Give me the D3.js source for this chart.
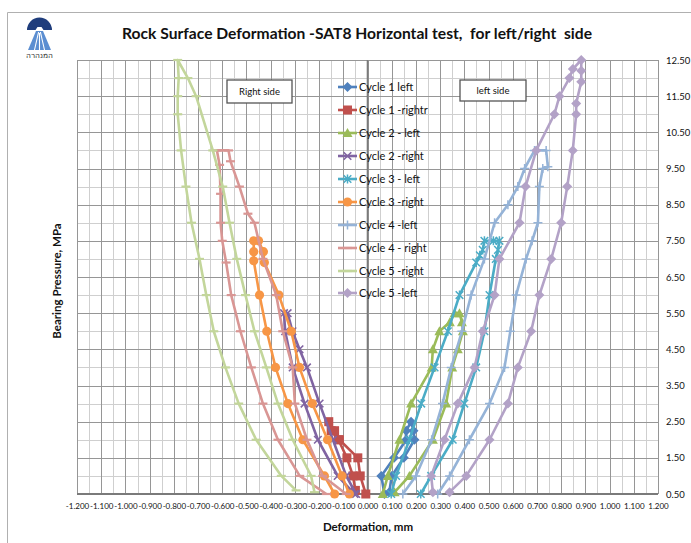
<!DOCTYPE html>
<html><head><meta charset="utf-8">
<script src="https://cdn.jsdelivr.net/npm/d3@7"></script>
<style>
body{margin:0;background:#fff;}
svg{display:block;font-family:Lato,"Open Sans",sans-serif;}
</style></head><body>
<svg id="chart" width="691" height="543"></svg>
<script>
// ---------- DATA ----------
const xTicks = [-1.2,-1.1,-1.0,-0.9,-0.8,-0.7,-0.6,-0.5,-0.4,-0.3,-0.2,-0.1,0,0.1,0.2,0.3,0.4,0.5,0.6,0.7,0.8,0.9,1.0,1.1,1.2];
const yTicks = [0.5,1.5,2.5,3.5,4.5,5.5,6.5,7.5,8.5,9.5,10.5,11.5,12.5];
const seriesNames = ["Cycle 1 left","Cycle 1 -rightr","Cycle 2 - left","Cycle 2 -right","Cycle 3 - left","Cycle 3 -right","Cycle 4 -left","Cycle 4 - right","Cycle 5 -right","Cycle 5 -left"];

// [deformation mm, pressure MPa]
const cycle1Left = [[0.07,0.5],[0.057,1.0],[0.11,1.5],[0.16,2.0],[0.16,2.25],[0.18,2.5],[0.19,2.25],[0.194,2.0],[0.15,1.5],[0.1,1.0],[0.09,0.55]];
const cycle1Right = [[-0.007,0.5],[-0.03,1.0],[-0.04,1.5],[-0.116,2.0],[-0.136,2.25],[-0.16,2.5],[-0.15,2.25],[-0.12,2.0],[-0.085,1.5],[-0.06,1.0],[-0.05,0.6]];
const cycle2Left = [[0.063,0.5],[0.084,1],[0.132,2],[0.18,3],[0.265,4],[0.27,4.5],[0.297,5],[0.34,5.25],[0.36,5.5],[0.38,5.5],[0.39,5.25],[0.394,5.0],[0.373,4.5],[0.35,4],[0.325,3],[0.27,2],[0.173,1],[0.112,0.55]];
const cycle2Right = [[-0.047,0.5],[-0.088,1],[-0.143,2],[-0.198,3],[-0.25,4],[-0.281,4.5],[-0.31,5],[-0.33,5.5],[-0.345,5.5],[-0.34,5],[-0.309,4],[-0.26,3],[-0.205,2],[-0.123,1],[-0.054,0.5]];
const cycle3Left = [[0.098,0.5],[0.118,1],[0.173,2],[0.222,3],[0.277,4],[0.332,5],[0.38,6],[0.449,6.9],[0.464,7.1],[0.476,7.25],[0.483,7.5],[0.52,7.5],[0.545,7.5],[0.539,7.25],[0.53,7.0],[0.504,6],[0.483,5],[0.449,4],[0.40,3],[0.352,2],[0.263,1],[0.22,0.5]];
const cycle3Right = [[-0.075,0.5],[-0.105,1],[-0.165,2],[-0.228,3],[-0.281,4],[-0.315,5],[-0.366,6],[-0.426,6.9],[-0.43,7.2],[-0.45,7.5],[-0.47,7.5],[-0.47,7.2],[-0.47,6.95],[-0.446,6],[-0.416,5],[-0.38,4],[-0.329,3],[-0.267,2],[-0.178,1],[-0.136,0.5]];
const cycle4Left = [[0.146,0.5],[0.2,1],[0.265,2],[0.31,3],[0.346,4],[0.39,5],[0.428,6],[0.483,7],[0.525,8],[0.58,8.5],[0.621,9],[0.649,9.5],[0.69,10],[0.738,10],[0.745,9.55],[0.724,9.5],[0.71,9],[0.704,8],[0.68,7.5],[0.655,7],[0.614,6],[0.59,5],[0.566,4],[0.504,3],[0.421,2],[0.339,1],[0.29,0.5]];
const cycle4Right = [[-0.088,0.5],[-0.185,1],[-0.25,2],[-0.3,3],[-0.309,4],[-0.35,5],[-0.377,6],[-0.432,7],[-0.467,8],[-0.494,8.25],[-0.529,9],[-0.566,9.7],[-0.574,10],[-0.622,10],[-0.611,9.6],[-0.607,8.8],[-0.607,8],[-0.6,7.5],[-0.584,6.9],[-0.563,6],[-0.525,5],[-0.48,4],[-0.432,3],[-0.37,2],[-0.28,1],[-0.17,0.5]];
const cycle5Right = [[-0.219,0.55],[-0.233,1],[-0.309,2],[-0.37,3],[-0.418,4],[-0.467,5],[-0.504,6],[-0.54,7],[-0.57,8],[-0.598,9],[-0.639,10],[-0.708,11.5],[-0.742,12],[-0.784,12.5],[-0.78,12],[-0.784,11.5],[-0.784,11],[-0.77,10],[-0.75,9],[-0.727,8],[-0.694,7],[-0.666,6],[-0.635,5],[-0.587,4],[-0.532,3],[-0.46,2],[-0.356,1],[-0.295,0.6]];
const cycle5Left = [[0.27,0.55],[0.263,1],[0.318,2],[0.373,3],[0.442,4],[0.476,5],[0.525,6],[0.545,7],[0.628,8],[0.653,9],[0.697,10],[0.772,11],[0.793,11.5],[0.834,12],[0.848,12.25],[0.883,12.5],[0.883,12.2],[0.883,11.9],[0.862,11.3],[0.862,11],[0.848,10],[0.825,9],[0.8,8],[0.759,7],[0.71,6],[0.676,5],[0.621,4],[0.58,3],[0.504,2],[0.408,1],[0.339,0.55]];

const seriesData = [cycle1Left,cycle1Right,cycle2Left,cycle2Right,cycle3Left,cycle3Right,cycle4Left,cycle4Right,cycle5Right,cycle5Left];
// ---------- STYLE ----------
const seriesColors = ["#4F81BD","#C0504D","#9BBB59","#8064A2","#4BACC6","#F79646","#95B3D7","#D99694","#C3D69B","#B3A2C7"];
const seriesMarkers = ["diamond","square","triangle","x","star","circle","plus","dash","dash","diamond"];

const svg = d3.select("#chart");
const L=77,R=658,T=60,B=494;
const x = d3.scaleLinear().domain([-1.2,1.2]).range([L,R]);
const y = d3.scaleLinear().domain([0.5,12.5]).range([B,T]);

// chart border
svg.append("path").attr("d","M7.5,543V12.5H691").attr("fill","none").attr("stroke","#b0b0b0").attr("stroke-width",1);

// logo
const logo = svg.append("g");
logo.append("path").attr("d","M27,30 A12.5,12.5 0 0 1 52,30 L43.5,30 L41.5,27 L37.5,27 L35.5,30 Z").attr("fill","#1f3d7c");
logo.append("path").attr("d","M36,31 L43,31 L51,50 L28,50 Z").attr("fill","#5b8ed1");
logo.append("path").attr("d","M38.6,32 L34.5,50 M40.4,32 L44.5,50 M39.5,33 V50").attr("stroke","#fff").attr("stroke-width",1.1);
logo.append("text").attr("x",39.5).attr("y",58).attr("text-anchor","middle").attr("font-size",7.5).attr("fill","#333").attr("font-family","'Noto Sans','DejaVu Sans',sans-serif").text("המנהרה");

// title
svg.append("text").attr("x",357).attr("y",39).attr("text-anchor","middle")
  .attr("font-size",16).attr("font-weight","bold").attr("fill","#111")
  .style("white-space","pre").attr("textLength",470).attr("lengthAdjust","spacingAndGlyphs")
  .text("Rock Surface Deformation -SAT8 Horizontal test,  for left/right  side");

// grid
const grid = svg.append("g");
const minorX = d3.range(0,49).map(i=>-1.2+i*0.05);
const minorY = d3.range(0,25).map(i=>0.5+i*0.5);
grid.selectAll(".mx").data(minorX).join("line").attr("x1",d=>Math.round(x(d))+0.5).attr("x2",d=>Math.round(x(d))+0.5).attr("y1",T).attr("y2",B).attr("stroke","#cfcfcf");
grid.selectAll(".my").data(minorY).join("line").attr("y1",d=>Math.round(y(d))+0.5).attr("y2",d=>Math.round(y(d))+0.5).attr("x1",L).attr("x2",R).attr("stroke","#cfcfcf");
grid.selectAll(".Mx").data(xTicks).join("line").attr("x1",d=>Math.round(x(d))+0.5).attr("x2",d=>Math.round(x(d))+0.5).attr("y1",T).attr("y2",B).attr("stroke","#969696");
grid.selectAll(".My").data(yTicks).join("line").attr("y1",d=>Math.round(y(d))+0.5).attr("y2",d=>Math.round(y(d))+0.5).attr("x1",L).attr("x2",R).attr("stroke","#969696");
// axis lines
svg.append("line").attr("x1",x(0)).attr("x2",x(0)).attr("y1",T).attr("y2",B).attr("stroke","#7a7a7a").attr("stroke-width",1.6);
svg.append("line").attr("x1",L).attr("x2",R).attr("y1",B).attr("y2",B).attr("stroke","#7a7a7a").attr("stroke-width",1.8);

// axes labels
const xAxis = d3.axisBottom(x).tickValues(xTicks).tickSize(0).tickPadding(9)
  .tickFormat(d=>(Math.abs(d)<1e-9?0:d).toFixed(3));
const gx = svg.append("g").attr("transform",`translate(0,${B})`).call(xAxis);
gx.select(".domain").remove();
gx.selectAll("text").attr("font-size",8).attr("font-family","Lato,sans-serif").attr("fill","#111");

const yAxis = d3.axisRight(y).tickValues(yTicks).tickSize(0).tickPadding(8).tickFormat(d=>d.toFixed(2));
const gy = svg.append("g").attr("transform",`translate(${R},0)`).call(yAxis);
gy.select(".domain").remove();
gy.selectAll("text").attr("font-size",9.5).attr("font-family","Lato,sans-serif").attr("fill","#111");

svg.append("text").attr("x",368).attr("y",531).attr("text-anchor","middle").attr("font-size",11.5).attr("font-weight","bold").attr("fill","#111").text("Deformation, mm");
svg.append("text").attr("transform","translate(61,281) rotate(-90)").attr("text-anchor","middle").attr("font-size",11.5).attr("font-weight","bold").attr("fill","#111").text("Bearing Pressure, MPa");

// side boxes
function sideBox(x0,y0,w,h,label){
  svg.append("rect").attr("x",x0).attr("y",y0).attr("width",w).attr("height",h).attr("fill","#fff").attr("stroke","#555").attr("stroke-width",1.3);
  svg.append("text").attr("x",x0+w/2).attr("y",y0+h/2+3.5).attr("text-anchor","middle").attr("font-size",9.5).attr("fill","#111").text(label);
}
sideBox(227,80,65,23,"Right side");
sideBox(460,80,66,21,"left side");

// markers
function marker(g,type,color,cx,cy){
  const t=`translate(${cx},${cy})`;
  switch(type){
    case "diamond": g.append("path").attr("transform",t).attr("d","M0,-5L5,0L0,5L-5,0Z").attr("fill",color); break;
    case "square": g.append("rect").attr("x",cx-4.5).attr("y",cy-4.5).attr("width",9).attr("height",9).attr("fill",color); break;
    case "triangle": g.append("path").attr("transform",t).attr("d","M0,-5L5,4L-5,4Z").attr("fill",color); break;
    case "x": g.append("path").attr("transform",t).attr("d","M-3.8,-3.8L3.8,3.8M-3.8,3.8L3.8,-3.8").attr("stroke",color).attr("stroke-width",1.6).attr("fill","none"); break;
    case "star": g.append("path").attr("transform",t).attr("d","M-3.8,-3.8L3.8,3.8M-3.8,3.8L3.8,-3.8M0,-4.5V4.5").attr("stroke",color).attr("stroke-width",1.5).attr("fill","none"); break;
    case "circle": g.append("circle").attr("cx",cx).attr("cy",cy).attr("r",4.6).attr("fill",color); break;
    case "plus": g.append("path").attr("transform",t).attr("d","M-4.5,0H4.5M0,-4.5V4.5").attr("stroke",color).attr("stroke-width",1.5).attr("fill","none"); break;
    case "dash": g.append("path").attr("transform",t).attr("d","M-4.5,0H4.5").attr("stroke",color).attr("stroke-width",2.2).attr("fill","none"); break;
  }
}

// series
const line = d3.line().x(d=>x(d[0])).y(d=>y(d[1]));
const plot = svg.append("g");
seriesData.forEach((data,i)=>{
  const g = plot.append("g");
  g.append("path").datum(data).attr("d",line).attr("fill","none").attr("stroke",seriesColors[i]).attr("stroke-width",2.6).attr("stroke-linejoin","round");
  data.forEach(d=>marker(g,seriesMarkers[i],seriesColors[i],x(d[0]),y(d[1])));
});

// legend
const legY = [87,110,133,156,179,202,225,248,271,293];
const lg = svg.append("g");
seriesNames.forEach((name,i)=>{
  lg.append("line").attr("x1",338).attr("x2",357).attr("y1",legY[i]).attr("y2",legY[i]).attr("stroke",seriesColors[i]).attr("stroke-width",2.6);
  marker(lg,seriesMarkers[i],seriesColors[i],347.5,legY[i]);
  lg.append("text").attr("x",359).attr("y",legY[i]+4).attr("font-size",11).attr("fill","#111").text(name);
});
</script>
</body></html>
